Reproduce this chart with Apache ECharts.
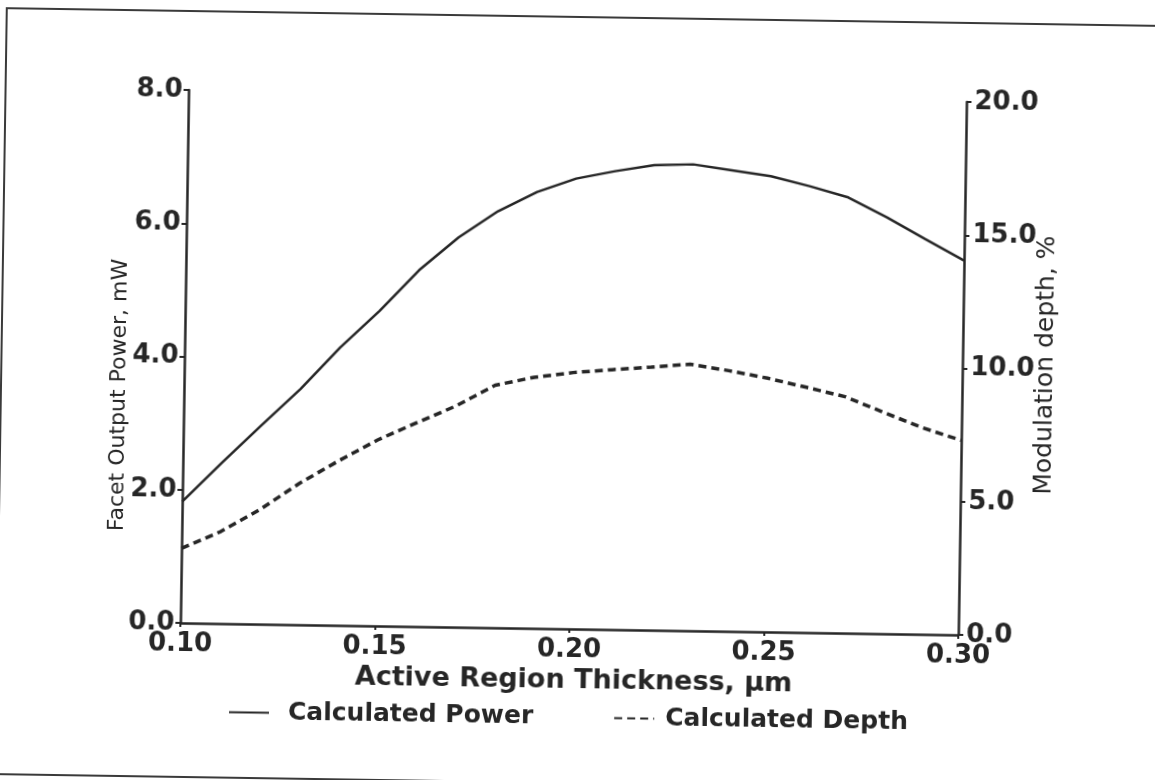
<!DOCTYPE html>
<html>
<head>
<meta charset="utf-8">
<script src="https://cdn.jsdelivr.net/npm/echarts@6/dist/echarts.min.js"></script>
<style>
  html, body { margin: 0; padding: 0; width: 1155px; height: 780px; overflow: hidden; background: #fff; }
  #chart { position: absolute; left: -20px; top: -20px; width: 1195px; height: 820px; transform: rotate(0.88deg); transform-origin: 50% 50%; }
</style>
</head>
<body>
<div id="chart"></div>
<script>
// Active region thickness (µm)
const thickness = [0.10, 0.11, 0.12, 0.13, 0.14, 0.15, 0.16, 0.17, 0.18, 0.19, 0.20,
                   0.21, 0.22, 0.23, 0.24, 0.25, 0.26, 0.27, 0.28, 0.29, 0.30];
// Calculated facet output power (mW)
const power = [1.82, 2.41, 2.98, 3.54, 4.17, 4.73, 5.35, 5.85, 6.25, 6.55, 6.76,
               6.88, 6.98, 7.00, 6.92, 6.84, 6.70, 6.54, 6.25, 5.93, 5.62];
// Calculated modulation depth (%)
const depth = [2.80, 3.45, 4.30, 5.30, 6.17, 6.98, 7.65, 8.30, 9.10, 9.42, 9.62,
               9.75, 9.87, 10.00, 9.78, 9.52, 9.20, 8.87, 8.30, 7.75, 7.30];

const seriesNames = ['Calculated Power', 'Calculated Depth'];
const xTitle = 'Active Region Thickness, \u03bcm';
const yLeftTitle = 'Facet Output Power, mW';
const yRightTitle = 'Modulation depth, %';

const ink = '#262626';
const tickFont = { fontFamily: 'DejaVu Sans', fontWeight: 'bold', fontSize: 26, color: ink };

const chart = echarts.init(document.getElementById('chart'), null, { renderer: 'canvas' });
chart.setOption({
  backgroundColor: '#ffffff',
  animation: false,
  grid: { left: 204, right: 213, top: 116, bottom: 171, containLabel: false },
  graphic: [
    { type: 'rect', shape: { x: 21, y: 37, width: 1250, height: 766 },
      style: { fill: 'none', stroke: '#3a3a3a', lineWidth: 2 } },
    { type: 'text', x: 139, y: 422, rotation: Math.PI / 2,
      style: { text: yLeftTitle, x: 0, y: 0, align: 'center', verticalAlign: 'middle',
               font: '22px "DejaVu Sans"', fill: ink } },
    { type: 'text', x: 1065, y: 378, rotation: Math.PI / 2,
      style: { text: yRightTitle, x: 0, y: 0, align: 'center', verticalAlign: 'middle',
               font: '25px "DejaVu Sans"', fill: ink } }
  ],
  legend: {
    data: [
      { name: seriesNames[0] },
      { name: seriesNames[1], textStyle: { padding: [0, 0, 0, 6] } }
    ],
    left: 248, top: 720,
    itemWidth: 40, itemHeight: 12, itemGap: 80,
    itemStyle: { opacity: 0, borderWidth: 0 },
    textStyle: { fontFamily: 'DejaVu Sans', fontWeight: 'bold', fontSize: 25, color: ink, padding: [0, 0, 0, 14] }
  },
  xAxis: {
    type: 'value', min: 0.1, max: 0.3, interval: 0.05,
    name: xTitle, nameLocation: 'middle', nameGap: 38,
    nameTextStyle: { fontFamily: 'DejaVu Sans', fontWeight: 'bold', fontSize: 27, color: ink, padding: [0, 0, 0, 10] },
    axisLine: { show: true, onZero: false, lineStyle: { color: ink, width: 2.5 } },
    axisTick: { show: true, length: 4, lineStyle: { color: ink, width: 2 } },
    splitLine: { show: false },
    axisLabel: Object.assign({ margin: 8, formatter: v => v.toFixed(2) }, tickFont)
  },
  yAxis: [
    {
      type: 'value', min: 0, max: 8, interval: 2, position: 'left',
      axisLine: { show: true, lineStyle: { color: ink, width: 2.5 } },
      axisTick: { show: true, length: 5, lineStyle: { color: ink, width: 2 } },
      splitLine: { show: false },
      axisLabel: Object.assign({ margin: 6, formatter: v => v.toFixed(1) }, tickFont)
    },
    {
      type: 'value', min: 0, max: 20, interval: 5, position: 'right',
      axisLine: { show: true, lineStyle: { color: ink, width: 2.5 } },
      axisTick: { show: true, length: 5, lineStyle: { color: ink, width: 2 } },
      splitLine: { show: false },
      axisLabel: Object.assign({ margin: 8, formatter: v => v.toFixed(1) }, tickFont)
    }
  ],
  series: [
    {
      name: seriesNames[0], type: 'line', yAxisIndex: 0,
      data: thickness.map((t, i) => [t, power[i]]),
      symbol: 'none', smooth: false,
      lineStyle: { color: ink, width: 2.5, type: 'solid' },
      itemStyle: { color: ink }
    },
    {
      name: seriesNames[1], type: 'line', yAxisIndex: 1,
      data: thickness.map((t, i) => [t, depth[i]]),
      symbol: 'none', smooth: false,
      lineStyle: { color: ink, width: 3.5, type: [8, 5] },
      itemStyle: { color: ink }
    }
  ]
});
</script>
</body>
</html>
